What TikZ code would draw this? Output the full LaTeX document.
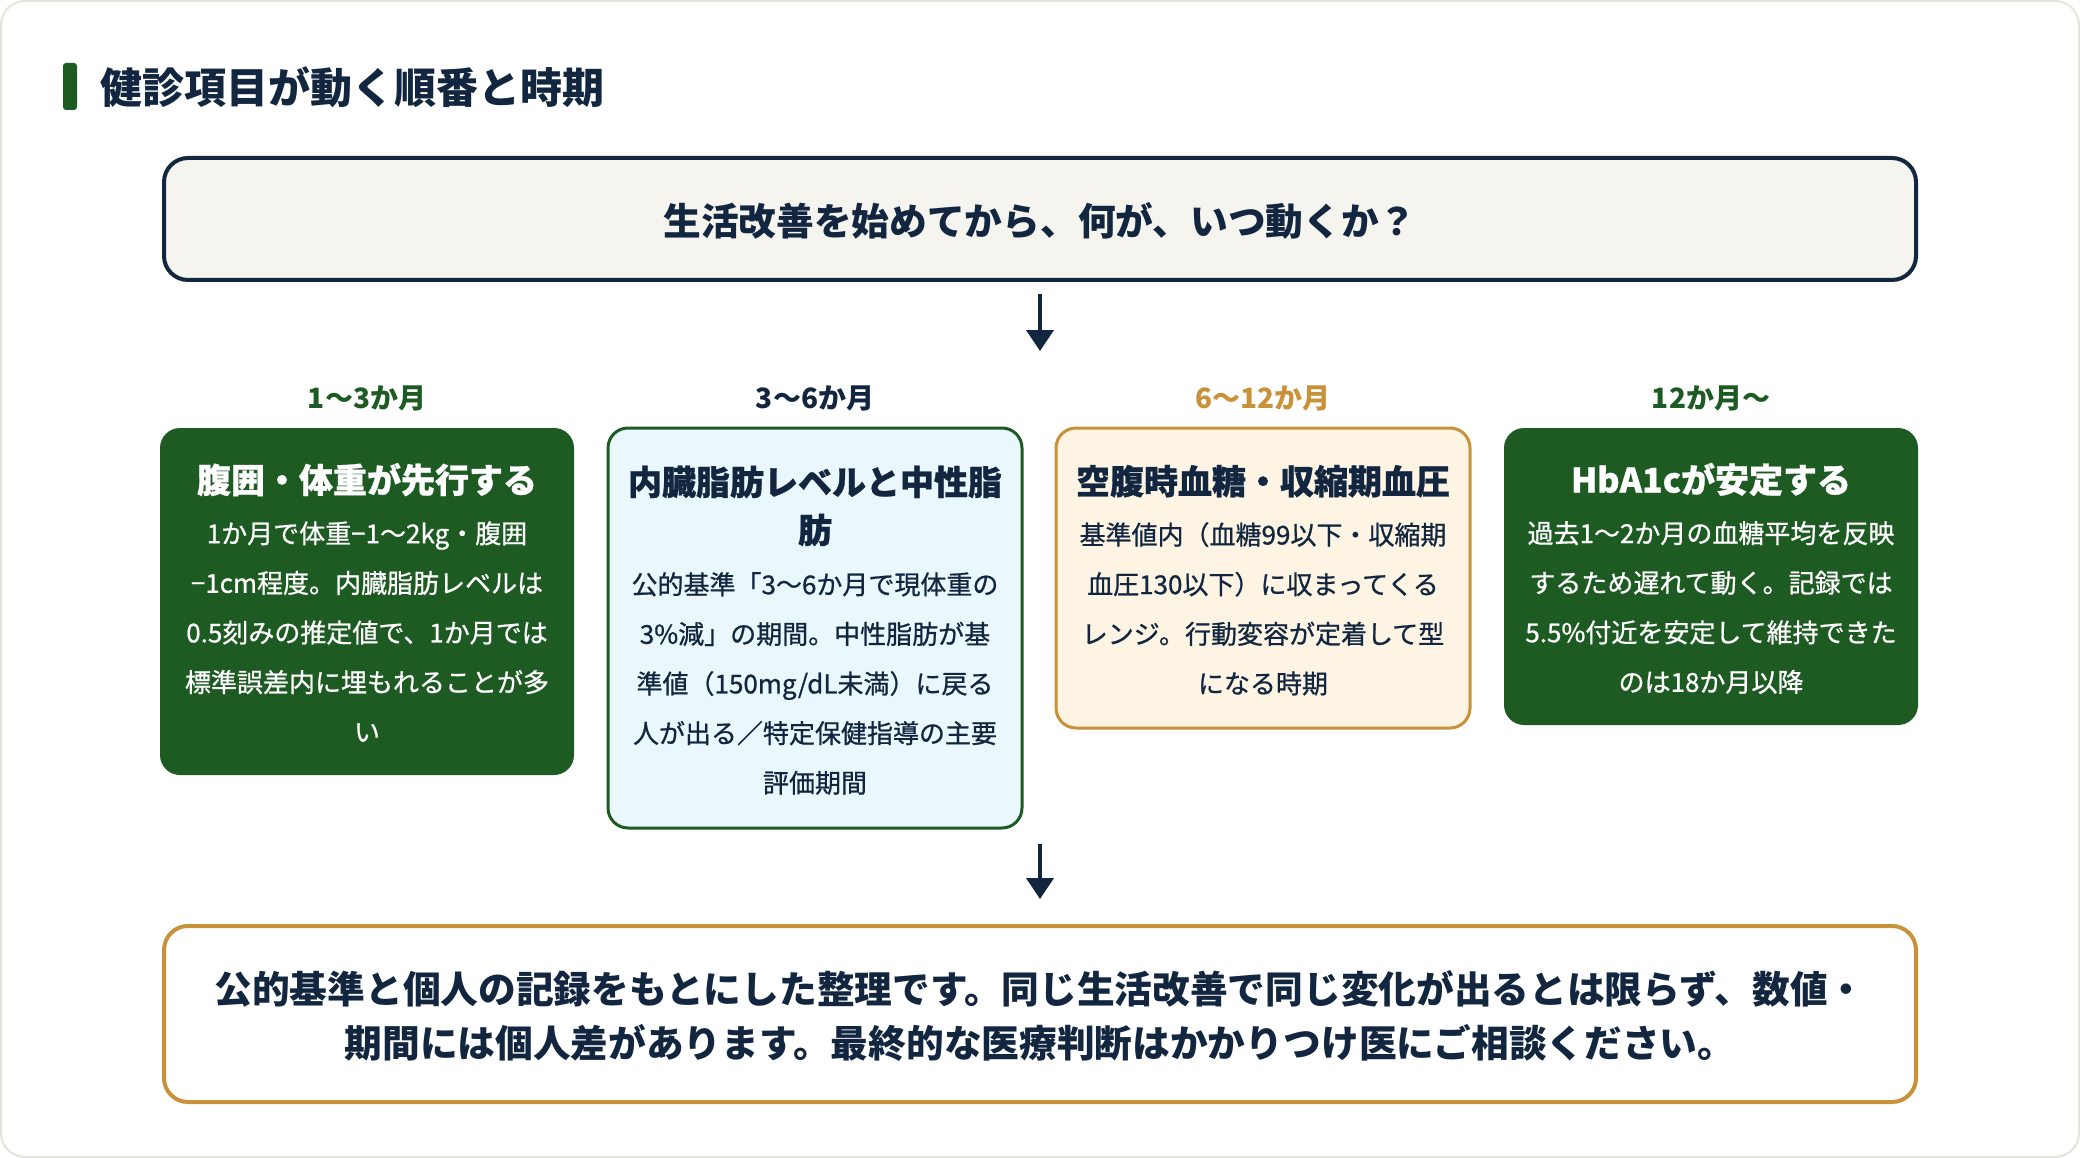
\documentclass[tikz,border=0pt]{standalone}
\usepackage{fontspec}
\setmainfont{Noto Sans CJK JP}
\newfontfamily\bodyfont{Noto Sans CJK JP}[RawFeature={embolden=0.8}]
\usetikzlibrary{arrows.meta,positioning}
\definecolor{navy}{HTML}{12263F}
\definecolor{leaf}{HTML}{1E5B23}
\definecolor{ochre}{HTML}{C8923A}
\definecolor{mist}{HTML}{EAF7FC}
\definecolor{cream}{HTML}{FDF4E4}
\definecolor{paper}{HTML}{F5F4EF}
\definecolor{rim}{HTML}{E6E4DA}
\newcommand\cardhead[1]{{\fontsize{34}{48}\selectfont\bfseries\rule{0pt}{37.4pt}#1}}
\newcommand\cardend{\rule[-6pt]{0pt}{6pt}}

\begin{document}
\begin{tikzpicture}
  [x=1pt, y=-1pt,
   every node/.style={inner sep=0pt, outer sep=0pt, text=navy},
   card/.style={rounded corners=20pt, minimum width=414pt, anchor=north, align=center,
     font=\bodyfont\fontsize{26}{49.6}\selectfont},
   darkcard/.style={card, fill=leaf, text=white},
   when/.style={anchor=base, font=\fontsize{28}{34}\selectfont\bfseries},
   banner/.style={rounded corners=24pt, line width=4pt, minimum width=1752pt,
     align=center, font=\fontsize{37.7}{53.5}\selectfont\bfseries},
   flow/.style={line width=4pt, draw=navy, -{Triangle[length=21pt,width=27pt]}}]
  \useasboundingbox (0,0) rectangle (2080,1158);
  \draw[rim, line width=2pt, fill=white, rounded corners=24pt] (1,1) rectangle (2079,1157);
  \fill[leaf, rounded corners=3pt] (63,63) rectangle (77,110);
  \node[anchor=base west, font=\fontsize{42}{50}\selectfont\bfseries] (title) at (100,103.5)
    {健診項目が動く順番と時期};

  \node[banner, draw=navy, fill=paper, minimum height=122pt] (head) at (1040,219)
    {\rule[-4.4pt]{0pt}{41.4pt}生活改善を始めてから、何が、いつ動くか？};

  \node[darkcard, minimum height=347pt] (c1) at (367,428)
    {\cardhead{腹囲・体重が先行する}\\[0.8pt]
     1か月で体重−1～2kg・腹囲\\
     −1cm程度。内臓脂肪レベルは\\
     0.5刻みの推定値で、1か月では\\
     標準誤差内に埋もれることが多\\
     い\cardend};
  \node[card, draw=leaf, line width=3pt, fill=mist, minimum height=400pt] (c2) at (815,428)
    {\cardhead{内臓脂肪レベルと中性脂}\\[-1.6pt]
     \cardhead{肪}\\[1.8pt]
     公的基準「3～6か月で現体重の\\
     3\%減」の期間。中性脂肪が基\\
     準値（150mg/dL未満）に戻る\\
     人が出る／特定保健指導の主要\\
     評価期間\cardend};
  \node[card, draw=ochre, line width=3pt, fill=cream, minimum height=300pt] (c3) at (1263,428)
    {\cardhead{空腹時血糖・収縮期血圧}\\[0.8pt]
     基準値内（血糖99以下・収縮期\\
     血圧130以下）に収まってくる\\
     レンジ。行動変容が定着して型\\
     になる時期\cardend};
  \node[darkcard, minimum height=297pt] (c4) at (1711,428)
    {\cardhead{HbA1cが安定する}\\[0.8pt]
     過去1～2か月の血糖平均を反映\\
     するため遅れて動く。記録では\\
     5.5\%付近を安定して維持できた\\
     のは18か月以降\cardend};

  \node[when, text=leaf] (t1) at ([yshift=19.5pt]c1.north) {1～3か月};
  \node[when, text=navy] (t2) at ([yshift=19.5pt]c2.north) {3～6か月};
  \node[when, text=ochre] (t3) at ([yshift=19.5pt]c3.north) {6～12か月};
  \node[when, text=leaf] (t4) at ([yshift=19.5pt]c4.north) {12か月～};

  \node[banner, draw=ochre, fill=white, minimum height=176pt] (note) at (1040,1014)
    {\rule{0pt}{39pt}公的基準と個人の記録をもとにした整理です。同じ生活改善で同じ変化が出るとは限らず、数値・\\
     期間には個人差があります。最終的な医療判断はかかりつけ医にご相談ください。\rule[-6pt]{0pt}{6pt}};

  \draw[flow, shorten <=14pt, shorten >=77pt] (head.south) -- (head.south |- c1.north);
  \draw[flow, shorten <=16pt, shorten >=27pt] (c2.south -| note.north) -- (note.north);
\end{tikzpicture}
\end{document}
